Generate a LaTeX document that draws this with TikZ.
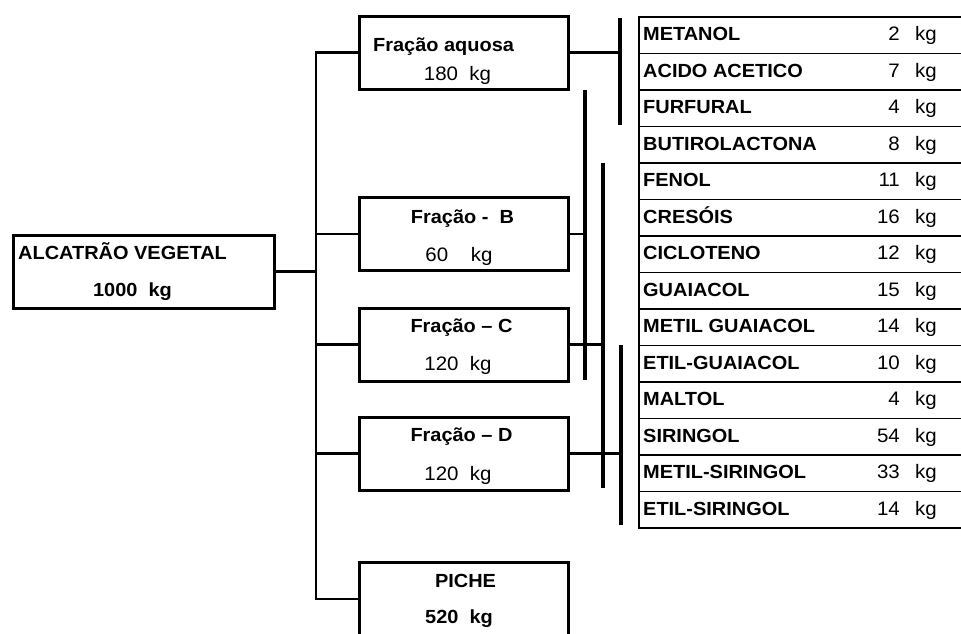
\documentclass[tikz,border=0pt]{standalone}
\usepackage{fontspec}
\setmainfont{Liberation Sans}[FakeStretch=1.05]
\usetikzlibrary{positioning,calc}

\begin{document}
\begin{tikzpicture}[x=1pt, y=-1pt,
    box/.style={draw, line width=3pt, minimum width=209pt, minimum height=73pt, inner sep=0pt},
    link/.style={line width=2.8pt},
    bar/.style={line width=3.8pt},
    cell/.style={draw, line width=1.6pt, minimum width=327pt, minimum height=36.5pt, inner sep=0pt, anchor=north west},
    txt/.style={font=\fontsize{19.5}{21}\selectfont, inner sep=0pt, anchor=base},
    bold/.style={txt, font=\fontsize{19}{21}\selectfont\bfseries}
  ]
  \useasboundingbox (0,0) rectangle (961,633);

  % Caixas
  \node[box, minimum width=261pt] (alcatrao) at (143.5,271.5) {};
  \node[box] (aquosa) at (463.5,52.5) {};
  \node[box] (fracB) at (463.5,234) {};
  \node[box] (fracC) at (463.5,344.5) {};
  \node[box] (fracD) at (463.5,453.5) {};
  \node[box] (piche) at (463.5,599) {};

  % Textos
  \node[bold, anchor=base west] (alcatraoA) at (18,259) {ALCATRÃO VEGETAL};
  \node[bold] (alcatraoB) at (132.5,296) {1000~~kg};
  \node[bold, anchor=base west] (aquosaA) at (373,51) {Fração aquosa};
  \node[txt] (aquosaB) at (457.5,80) {180~~kg};
  \node[bold] (fracBA) at (462.5,223) {Fração -~~B};
  \node[txt] (fracBB) at (459,261) {60~~~~kg};
  \node[bold] (fracCA) at (461.5,332.7) {Fração – C};
  \node[txt] (fracCB) at (458,370.7) {120~~kg};
  \node[bold] (fracDA) at (461.5,441.7) {Fração – D};
  \node[txt] (fracDB) at (458,480) {120~~kg};
  \node[bold] (picheA) at (465.5,587) {PICHE};
  \node[bold] (picheB) at (459,623) {520~~kg};

  % Tronco
  \coordinate (tronco) at (316,0);
  \draw[link] (alcatrao.east) -- (alcatrao.east -| tronco);
  \draw[link] (aquosa.west) -- (aquosa.west -| tronco) |- (piche.west);
  \foreach \f in {fracB,fracC,fracD}
    \draw[link] (\f.west) -- (\f.west -| tronco);

  % Barras
  \coordinate (b1t) at (620,18);  \coordinate (b1b) at (620,125);
  \coordinate (b2t) at (585,90);  \coordinate (b2b) at (585,380);
  \coordinate (b3t) at (603,163); \coordinate (b3b) at (603,488);
  \coordinate (b4t) at (621,345); \coordinate (b4b) at (621,525);
  \foreach \b in {1,...,4}
    \draw[bar] (b\b t) -- (b\b b);
  \draw[link] (aquosa.east) -- (aquosa.east -| b1t);
  \draw[link] (fracB.east) -- (fracB.east -| b2t);
  \draw[link] (fracC.east) -- (fracC.east -| b3t);
  \draw[link] (fracD.east) -- (fracD.east -| b4t);

  % Tabela
  \foreach \nome/\massa [count=\i from 0] in {METANOL/2, ACIDO ACETICO/7,
      FURFURAL/4, BUTIROLACTONA/8, FENOL/11, CRESÓIS/16, CICLOTENO/12,
      GUAIACOL/15, METIL GUAIACOL/14, ETIL-GUAIACOL/10, MALTOL/4,
      SIRINGOL/54, METIL-SIRINGOL/33, ETIL-SIRINGOL/14} {
    \node[cell] (linha\i) at (638,{16+36.5*\i}) {};
    \node[bold, anchor=base west] (nome\i) at ($(linha\i.north west)+(5,24.7)$) {\nome};
    \node[txt, anchor=base east] (massa\i) at ($(linha\i.north west)+(262,24.7)$) {\massa};
    \node[txt, anchor=base west] (kg\i) at ($(linha\i.north west)+(277,24.7)$) {kg};
  }
\end{tikzpicture}
\end{document}
